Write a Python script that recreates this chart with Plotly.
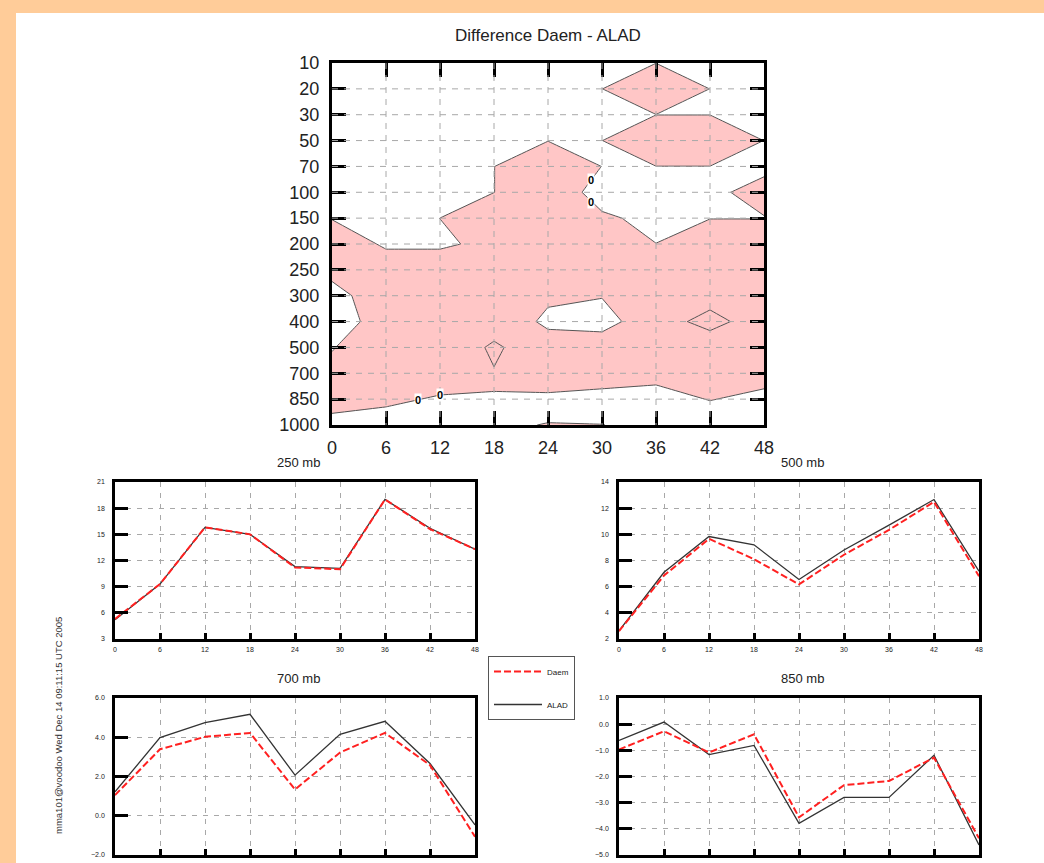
import plotly.graph_objects as go

# ---------------- data ----------------
hours = [0, 6, 12, 18, 24, 30, 36, 42, 48]
levels = [10, 20, 30, 50, 70, 100, 150, 200, 250, 300, 400, 500, 700, 850, 1000]

# Daem - ALAD difference field (rows = pressure levels top->bottom, cols = hours)
diff = [
    [-1, -1, -1, -1, -1, -1, -0.01, -1, -1],                       # 10
    [-1, -1, -1, -1, -1, -0.01, 1, -0.01, -1],                     # 20
    [-1, -1, -1, -1, -1, -1, -0.01, -0.01, -1],                    # 30
    [-1, -1, -1, -1, -0.02, -0.01, 1, 1, -0.01],                   # 50
    [-1, -1, -1, -0.01, 0.8, -0.01, -0.01, -0.01, -0.12],          # 70
    [-1, -1, -1, -0.01, 0.85, -0.5, -1, -0.112, 0.18],             # 100
    [-0.05, -1, 0.005, 0.8, 1, 0.176, -0.3, -0.01, -0.02],         # 150
    [0.78, -0.165, -0.165, 0.266, 1, 1, 0.01, 0.3, 0.65],          # 200
    [0.41, 0.66, 0.66, 1, 1, 1, 1, 1, 1],                          # 250
    [-0.5, 0.86, 1, 1, 0.245, 0.04, 1, 0.78, 1],                   # 300
    [-0.2, 0.18, 1, 1.06, -0.3, -0.36, 0.62, 3, 0.37],             # 400
    [-0.075, 1, 0.54, 2.3, 0.7, 0.54, 1, 0.14, 1],                 # 500
    [0.39, 1, 0.84, 1.9, 0.75, 0.6, 0.45, 1, 0.6],                 # 700
    [0.55, 0.3, -0.16, -0.81, -0.25, -0.4, -0.55, 0.06, -0.4],     # 850
    [-0.45, -0.7, -1, -0.1, 0.025, 0.012, -0.2, -0.94, -1],        # 1000
]
contour_levels = [0, 2]

t250_daem = [5.3, 9.3, 15.8, 15.0, 11.2, 11.0, 19.0, 15.6, 13.3]
t250_alad = [5.2, 9.3, 15.8, 15.0, 11.3, 11.1, 19.0, 15.7, 13.3]
t500_daem = [2.6, 6.85, 9.66, 8.1, 6.17, 8.44, 10.34, 12.48, 6.8]
t500_alad = [2.63, 7.1, 9.83, 9.2, 6.55, 8.8, 10.7, 12.66, 7.18]
t700_daem = [1.05, 3.39, 4.02, 4.22, 1.34, 3.22, 4.22, 2.58, -1.07]
t700_alad = [1.22, 3.98, 4.75, 5.17, 2.07, 4.15, 4.81, 2.66, -0.47]
t850_daem = [-0.97, -0.27, -1.08, -0.39, -3.56, -2.33, -2.17, -1.28, -4.36]
t850_alad = [-0.62, 0.08, -1.16, -0.81, -3.79, -2.8, -2.8, -1.19, -4.62]

# contour label "0" positions (hour, level index)
label_hours = [28.8, 28.8, 9.5, 12.0]
label_rows = [4.52, 5.38, 13.03, 12.84]

# ---------------- figure ----------------
W, H = 1044, 863
FONT = "Liberation Sans, Arial, Helvetica, sans-serif"
PINK = "#FFC6C6"
RED = "#FF2020"
DARK = "#333333"
GRID = "#a8a8a8"


def dx(a, b):
    return [a / W, b / W]


def dy(top, bottom):
    return [1 - bottom / H, 1 - top / H]


fig = go.Figure()

rows = list(range(len(levels)))
fig.add_trace(go.Contour(
    x=hours, y=rows, z=diff, xaxis="x", yaxis="y",
    contours=dict(start=contour_levels[0], end=contour_levels[-1],
                  size=contour_levels[1] - contour_levels[0],
                  coloring="fill", showlabels=False),
    colorscale=[[0, "white"], [0.25, "white"], [0.25, PINK], [1, PINK]],
    line=dict(color="#555555", width=1, smoothing=0),
    showscale=False, hoverinfo="skip", showlegend=False,
))

panels = [
    ("250 mb", "x2", "y2", t250_daem, t250_alad, [3, 21], 3, None, dx(115, 475), dy(482, 639)),
    ("500 mb", "x3", "y3", t500_daem, t500_alad, [2, 14], 2, None, dx(619, 979), dy(482, 639)),
    ("700 mb", "x4", "y4", t700_daem, t700_alad, [-2, 6], 2, ".1f", dx(115, 475), dy(698, 855)),
    ("850 mb", "x5", "y5", t850_daem, t850_alad, [-5, 1], 1, ".1f", dx(619, 979), dy(698, 855)),
]

for k, (title, xa, ya, daem, alad, yr, dt, fmt, xd, yd) in enumerate(panels):
    fig.add_trace(go.Scatter(x=hours, y=alad, xaxis=xa, yaxis=ya, mode="lines",
                             name="ALAD", legendgroup="alad", legendrank=2,
                             showlegend=(k == 0),
                             line=dict(color=DARK, width=1.3)))
    fig.add_trace(go.Scatter(x=hours, y=daem, xaxis=xa, yaxis=ya, mode="lines",
                             name="Daem", legendgroup="daem", legendrank=1,
                             showlegend=(k == 0),
                             line=dict(color=RED, width=2, dash="7px,3px")))
    n = xa[1:]
    fig.layout["xaxis" + n] = dict(
        domain=xd, anchor=ya, range=[0, 48], tickvals=hours, automargin=False,
        ticks="inside", ticklen=6, tickwidth=3, tickcolor="black",
        showline=True, linewidth=2.5, linecolor="black", mirror=True,
        showgrid=True, gridcolor=GRID, griddash="5px,6px", gridwidth=1,
        zeroline=False, tickfont=dict(size=7, family=FONT, color="#222"),
        ticklabelstandoff=2,
    )
    fig.layout["yaxis" + n] = dict(
        domain=yd, anchor=xa, range=yr, dtick=dt, tick0=yr[0], tickformat=fmt,
        automargin=False,
        ticks="inside", ticklen=13, tickwidth=3, tickcolor="black",
        showline=True, linewidth=2.5, linecolor="black", mirror=True,
        showgrid=True, gridcolor=GRID, griddash="5px,6px", gridwidth=1,
        zeroline=False, tickfont=dict(size=7, family=FONT, color="#222"),
        ticklabelstandoff=6,
    )
    fig.add_annotation(text=title, xref="paper", yref="paper",
                       x=(xd[0] + xd[1]) / 2 + 3 / W, y=yd[1] + 20 / H,
                       xanchor="center", yanchor="middle", showarrow=False,
                       font=dict(size=13, family=FONT, color="#222"))

# main contour axes
fig.update_layout(
    xaxis=dict(domain=dx(332, 764), anchor="y", range=[0, 48], tickvals=hours,
               automargin=False,
               ticks="inside", ticklen=14, tickwidth=3, tickcolor="black",
               showline=True, linewidth=3, linecolor="black", mirror="ticks",
               showgrid=False, zeroline=False,
               tickfont=dict(size=18, family=FONT, color="#222"),
               ticklabelstandoff=4),
    yaxis=dict(domain=dy(63, 425), anchor="x", range=[len(levels) - 1, 0],
               tickvals=rows, ticktext=[str(v) for v in levels], automargin=False,
               ticks="inside", ticklen=14, tickwidth=3, tickcolor="black",
               showline=True, linewidth=3, linecolor="black", mirror="ticks",
               showgrid=False, zeroline=False,
               tickfont=dict(size=18, family=FONT, color="#222"),
               ticklabelstandoff=6),
)

# dashed grid drawn over the filled contours
shapes = [dict(type="rect", xref="paper", yref="paper", x0=16 / W, x1=1.01,
               y0=-0.01, y1=1 - 13 / H, fillcolor="white", line=dict(width=0),
               layer="below")]
for h in hours[1:-1]:
    shapes.append(dict(type="line", xref="x", yref="y", x0=h, x1=h, y0=0,
                       y1=len(levels) - 1, layer="above",
                       line=dict(color=GRID, width=1, dash="6px,6px")))
for r in rows[1:-1]:
    shapes.append(dict(type="line", xref="x", yref="y", x0=0, x1=48, y0=r,
                       y1=r, layer="above",
                       line=dict(color=GRID, width=1, dash="6px,6px")))

annotations = list(fig.layout.annotations)
annotations.append(dict(text="Difference Daem - ALAD", xref="paper", yref="paper",
                        x=548 / W, y=1 - 36 / H, xanchor="center", yanchor="middle",
                        showarrow=False, font=dict(size=17, family=FONT, color="#222")))
for lh, lr in zip(label_hours, label_rows):
    annotations.append(dict(text="<b>0</b>", xref="x", yref="y", x=lh, y=lr,
                            showarrow=False, font=dict(size=11, family=FONT, color="#000000"),
                            bgcolor="white", borderpad=0))
annotations.append(dict(text="mma101@voodoo Wed Dec 14 09:11:15 UTC 2005",
                        xref="paper", yref="paper", x=58 / W, y=1 - 726 / H,
                        textangle=-90, showarrow=False, xanchor="center", yanchor="middle",
                        font=dict(size=9.5, family=FONT, color="#333")))

fig.update_layout(
    width=W, height=H, autosize=False,
    margin=dict(l=0, r=0, t=0, b=0, pad=0, autoexpand=False),
    paper_bgcolor="#FFCC99", plot_bgcolor="white",
    shapes=shapes, annotations=annotations,
    showlegend=True,
    legend=dict(x=488 / W, y=1 - 656 / H, xanchor="left", yanchor="top",
                bordercolor="#555", borderwidth=1, bgcolor="white",
                font=dict(size=8, family=FONT, color="#222"),
                tracegroupgap=14, traceorder="grouped", itemwidth=48,
                entrywidth=48),
)

fig.write_html("out.html", config={"displayModeBar": False},
               post_script="document.body.style.margin='0px';")
